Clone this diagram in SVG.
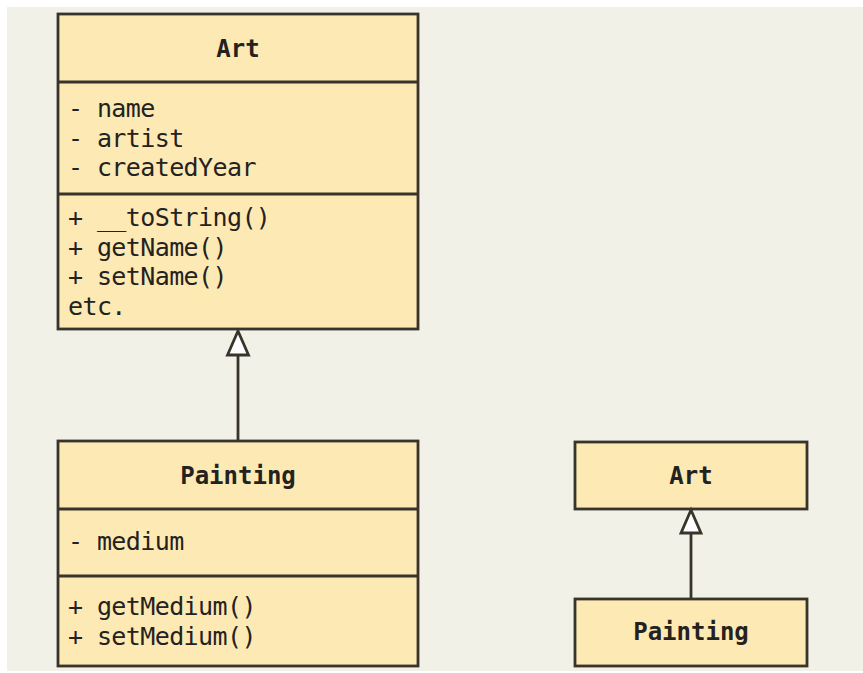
<svg xmlns="http://www.w3.org/2000/svg" width="863" height="673" viewBox="0 0 863 673">
  <style>
    .box { fill: #fde9b4; stroke: #38342c; stroke-width: 2.8; }
    .div { stroke: #38342c; stroke-width: 2.8; fill: none; }
    .t { font-family: "DejaVu Sans Mono", "Liberation Mono", monospace; font-size: 25px; letter-spacing: -0.6px; fill: #24221e; }
    .h { font-family: "DejaVu Sans Mono", "Liberation Mono", monospace; font-size: 24px; font-weight: bold; fill: #24221e; text-anchor: middle; }
    .edge { stroke: #38342c; stroke-width: 2.8; fill: none; }
    .head { fill: #ffffff; stroke: #38342c; stroke-width: 2.8; stroke-linejoin: miter; }
  </style>
  <rect x="0" y="0" width="863" height="673" fill="#ffffff"/>
  <rect x="7" y="7" width="856" height="664" fill="#f2f1e7"/>

  <g id="art-full">
    <rect class="box" x="58" y="14" width="360" height="315"/>
    <line class="div" x1="58" y1="82" x2="418" y2="82"/>
    <line class="div" x1="58" y1="194" x2="418" y2="194"/>
    <text class="h" x="238" y="57">Art</text>
    <text class="t" x="68" y="117">- name</text>
    <text class="t" x="68" y="147">- artist</text>
    <text class="t" x="68" y="176">- createdYear</text>
    <text class="t" x="68" y="226">+ __toString()</text>
    <text class="t" x="68" y="256">+ getName()</text>
    <text class="t" x="68" y="285">+ setName()</text>
    <text class="t" x="68" y="315">etc.</text>
  </g>

  <g id="painting-full">
    <rect class="box" x="58" y="441" width="360" height="225"/>
    <line class="div" x1="58" y1="509" x2="418" y2="509"/>
    <line class="div" x1="58" y1="576" x2="418" y2="576"/>
    <text class="h" x="238" y="484">Painting</text>
    <text class="t" x="68" y="550">- medium</text>
    <text class="t" x="68" y="615">+ getMedium()</text>
    <text class="t" x="68" y="645">+ setMedium()</text>
  </g>

  <g id="art-small">
    <rect class="box" x="575" y="442" width="232" height="67"/>
    <text class="h" x="691" y="484">Art</text>
  </g>

  <g id="painting-small">
    <rect class="box" x="575" y="599" width="232" height="67"/>
    <text class="h" x="691" y="640">Painting</text>
  </g>

  <g id="connectors">
    <line class="edge" x1="238" y1="355" x2="238" y2="441"/>
    <polygon class="head" points="238,331 248.5,355 227.5,355"/>
    <line class="edge" x1="691" y1="533" x2="691" y2="599"/>
    <polygon class="head" points="691,510 701,533 681,533"/>
  </g>
</svg>
